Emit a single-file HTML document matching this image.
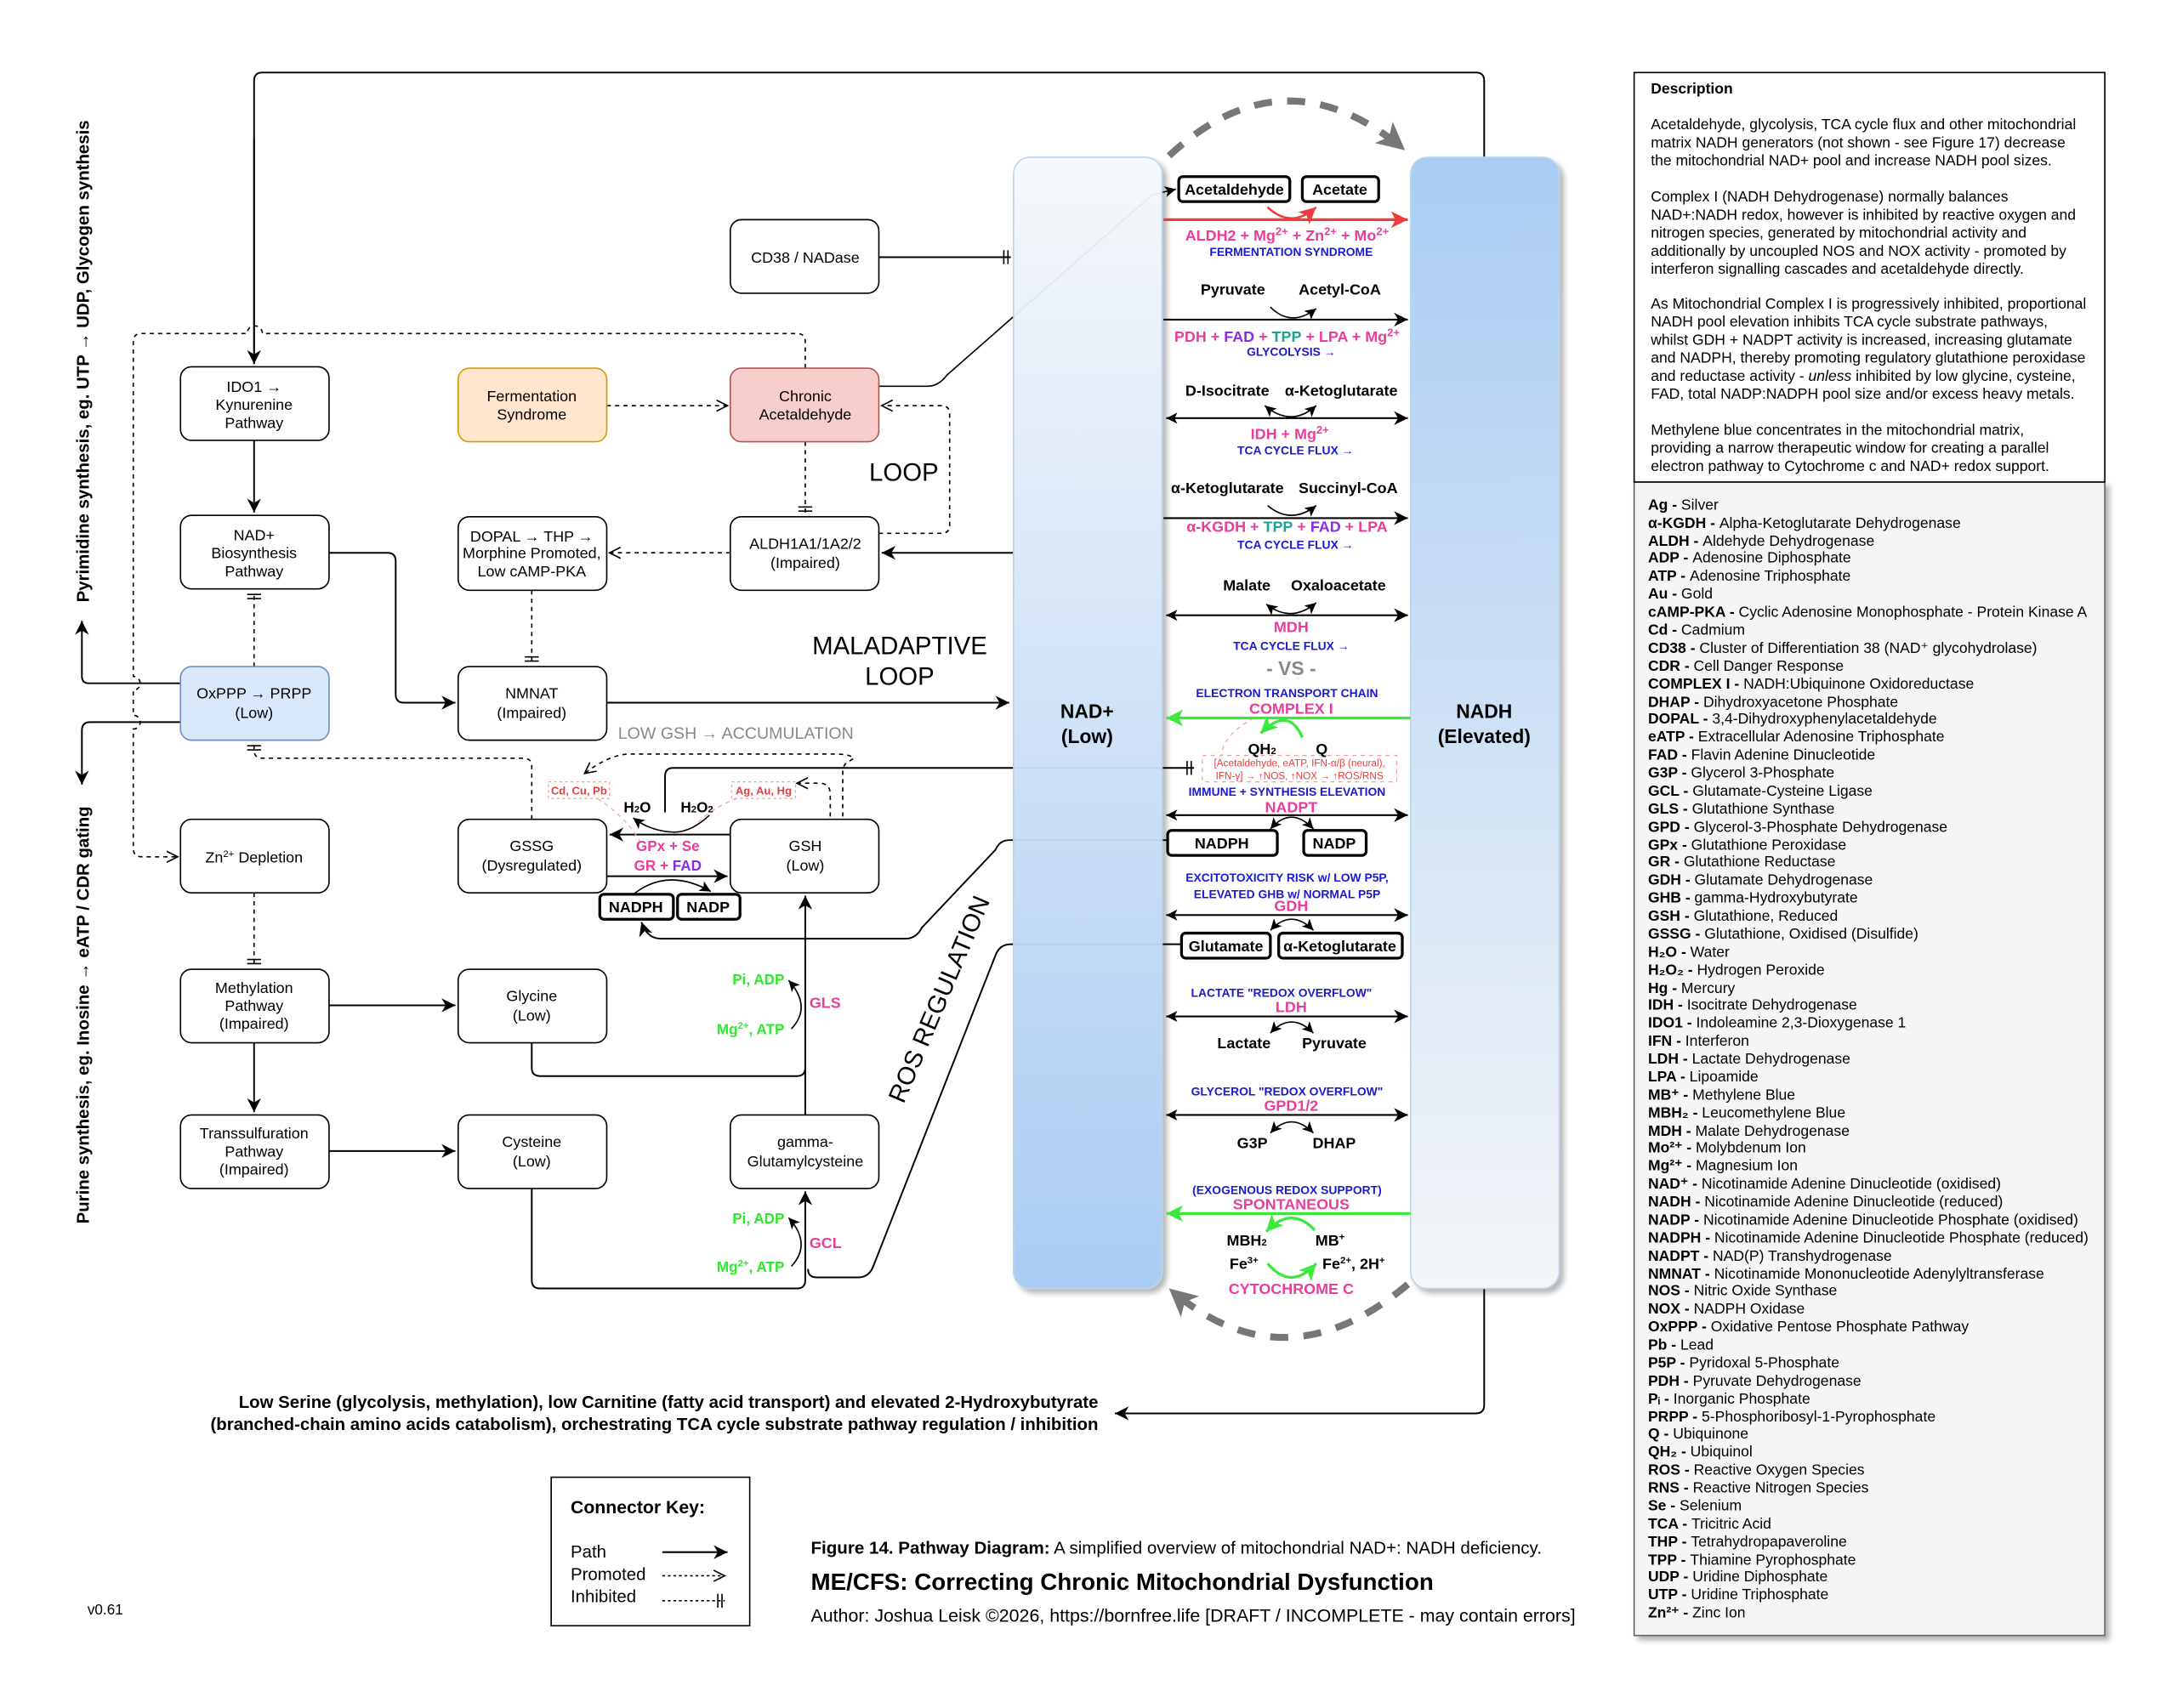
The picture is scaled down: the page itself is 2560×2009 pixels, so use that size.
<!DOCTYPE html>
<html><head><meta charset="utf-8"><style>html,body{margin:0;padding:0;background:#fff}svg{display:block}</style></head>
<body>
<svg width="2560" height="2009" viewBox="0 0 1568 1230" xmlns="http://www.w3.org/2000/svg" font-family="'Liberation Sans', Arial, sans-serif">
<defs>
<marker id="a" markerUnits="userSpaceOnUse" markerWidth="12" markerHeight="12" refX="10" refY="6" orient="auto"><path d="M0,1 L10,6 L0,11 L3,6z" fill="#000"/></marker>
<marker id="as" markerUnits="userSpaceOnUse" markerWidth="10" markerHeight="10" refX="8" refY="5" orient="auto-start-reverse"><path d="M0,1 L8,5 L0,9 L2,5z" fill="#000"/></marker>
<marker id="o" markerUnits="userSpaceOnUse" markerWidth="10" markerHeight="10" refX="8" refY="5" orient="auto"><path d="M0,1 L8,5 L0,9" fill="none" stroke="#000" stroke-width="1"/></marker>
<marker id="r" markerUnits="userSpaceOnUse" markerWidth="14" markerHeight="14" refX="12" refY="7" orient="auto"><path d="M0,1 L12,7 L0,13 L3,7z" fill="#f03c3c"/></marker>
<marker id="g" markerUnits="userSpaceOnUse" markerWidth="14" markerHeight="14" refX="12" refY="7" orient="auto"><path d="M0,1 L12,7 L0,13 L3,7z" fill="#3de83d"/></marker>
<marker id="gy" markerUnits="userSpaceOnUse" markerWidth="24" markerHeight="24" refX="20" refY="12" orient="auto"><path d="M0,2 L20,12 L0,22 L5,12z" fill="#777"/></marker>
<marker id="i" markerUnits="userSpaceOnUse" markerWidth="10" markerHeight="12" refX="9" refY="6" orient="auto"><path d="M4,1 V11 M7,1 V11" stroke="#000" stroke-width="1"/></marker>
<linearGradient id="gl" x1="0" y1="0" x2="0" y2="1"><stop offset="0" stop-color="#f6f8fb"/><stop offset="1" stop-color="#a6caf3"/></linearGradient>
<linearGradient id="gr" x1="0" y1="0" x2="0" y2="1"><stop offset="0" stop-color="#a6caf3"/><stop offset="1" stop-color="#f4f6f8"/></linearGradient>
<filter id="sh"><feDropShadow dx="3" dy="3" stdDeviation="2" flood-opacity="0.3"/></filter>
</defs>

<g fill="none" stroke="#000" stroke-width="1.2">
<path d="M183 262 V58 Q183 52 189 52 H1063 Q1069 52 1069 58 V113"/>
<path d="M183 100 V262" marker-end="url(#a)"/>
<path d="M1069 928 V1012 Q1069 1018 1063 1018 H803" marker-end="url(#a)"/>
<path d="M183 317 V369" marker-end="url(#a)"/>
<path d="M237 398 H279 Q285 398 285 404 V500 Q285 506 291 506 H328" marker-end="url(#a)"/>
<path d="M437 506 H727" marker-end="url(#a)"/>
<path d="M730 398 H635" marker-end="url(#a)"/>
<path d="M633 185 H728" marker-end="url(#i)"/>
<path d="M633 278 H668 Q676 278 682 270 L830 140 L847 136" stroke-width="1" marker-end="url(#as)"/>
<path d="M183 751 V801" marker-end="url(#a)"/>
<path d="M237 724 H328" marker-end="url(#a)"/>
<path d="M237 829 H328" marker-end="url(#a)"/>
<path d="M383 751 V769 Q383 775 389 775 H574 Q580 775 580 769"/>
<path d="M383 856 V922 Q383 928 389 928 H574 Q580 928 580 922 V858" marker-end="url(#a)"/>
<path d="M580 803 V645" marker-end="url(#a)"/>
<path d="M851 680 H728 Q720 680 717 688 L629 912 Q626 920 618 920 H588 Q582 920 582 914"/>
<path d="M841 605 H727 Q720 605 717 612 L664 668 Q660 676 652 676 H476 Q466 676 462 664" marker-end="url(#a)"/>
<path d="M526 601 H439" marker-end="url(#a)"/>
<path d="M437 631 H524" marker-end="url(#a)"/>
<path d="M479 585 V559 Q479 553 485 553 H860" marker-end="url(#i)"/>
<path d="M130 492 H64 Q59 492 59 487 V447" marker-end="url(#a)"/>
<path d="M130 520 H65 Q59 520 59 526 V565" marker-end="url(#a)"/>
</g>
<g fill="none" stroke="#000" stroke-width="1" stroke-dasharray="3,3">
<path d="M580 265 V246 Q580 240 574 240 H189 A5 5 0 0 0 178 240 H102 Q96 240 96 246 V487 A5 5 0 0 1 96 497 V515 A5 5 0 0 1 96 525 V611 Q96 617 102 617 H128" marker-end="url(#o)"/>
<path d="M437 292 H524" marker-end="url(#o)"/>
<path d="M580 318 V370" marker-end="url(#i)"/>
<path d="M633 384 H678 Q684 384 684 378 V298 Q684 292 678 292 H635" marker-end="url(#o)"/>
<path d="M526 398 H439" marker-end="url(#o)"/>
<path d="M383 425 V478" marker-end="url(#i)"/>
<path d="M183 480 V426" marker-end="url(#i)"/>
<path d="M383 590 V552 Q383 546 377 546 H189 Q183 546 183 540 V535" marker-end="url(#i)"/>
<path d="M183 643 V696" marker-end="url(#i)"/>
<path d="M607 588 V556 Q607 550 612 548 L615 546 Q612 543 602 543 H452 Q438 544 421 557" marker-end="url(#o)"/>
<path d="M598 588 V572 Q598 564 590 564 H574" marker-end="url(#o)"/>
</g>
<g fill="none" stroke="#f5a0a0" stroke-width="0.8" stroke-dasharray="3,3">
<path d="M420 569 Q450 585 462 608"/><path d="M548 569 Q510 580 498 598"/>
<path d="M903 517 Q880 530 880 544"/>
</g>

<rect x="730" y="113" width="107" height="815" rx="12" fill="url(#gl)" stroke="#b9d3ee" filter="url(#sh)" opacity="0.95"/>
<rect x="1016" y="113" width="107" height="815" rx="12" fill="url(#gr)" stroke="#b9d3ee" filter="url(#sh)" opacity="0.95"/>
<g font-weight="bold" font-size="14" text-anchor="middle" fill="#000">
<text x="783" y="517">NAD+</text><text x="783" y="535">(Low)</text>
<text x="1069" y="517">NADH</text><text x="1069" y="535">(Elevated)</text>
</g>
<path d="M842 112 Q925 35 1012 108" fill="none" stroke="#777" stroke-width="5" stroke-dasharray="13,11" marker-end="url(#gy)"/>
<path d="M1014 925 Q925 1000 842 928" fill="none" stroke="#777" stroke-width="5" stroke-dasharray="13,11" marker-end="url(#gy)"/>

<g stroke="#000" stroke-width="1" fill="#fff">
<rect x="130" y="264" width="107" height="53" rx="8"/>
<rect x="130" y="371" width="107" height="53" rx="8"/>
<rect x="130" y="480" width="107" height="53" rx="8" fill="#dae8fc" stroke="#6c8ebf"/>
<rect x="130" y="590" width="107" height="53" rx="8"/>
<rect x="130" y="698" width="107" height="53" rx="8"/>
<rect x="130" y="803" width="107" height="53" rx="8"/>
<rect x="330" y="265" width="107" height="53" rx="8" fill="#ffe6cc" stroke="#d79b00"/>
<rect x="330" y="372" width="107" height="53" rx="8"/>
<rect x="330" y="480" width="107" height="53" rx="8"/>
<rect x="330" y="590" width="107" height="53" rx="8"/>
<rect x="330" y="698" width="107" height="53" rx="8"/>
<rect x="330" y="803" width="107" height="53" rx="8"/>
<rect x="526" y="158" width="107" height="53" rx="8"/>
<rect x="526" y="265" width="107" height="53" rx="8" fill="#f8cecc" stroke="#b85450"/>
<rect x="526" y="372" width="107" height="53" rx="8"/>
<rect x="526" y="590" width="107" height="53" rx="8"/>
<rect x="526" y="803" width="107" height="53" rx="8"/>
</g>
<g font-size="11" text-anchor="middle" fill="#000">
<text x="183" y="282">IDO1 →</text><text x="183" y="295">Kynurenine</text><text x="183" y="308">Pathway</text>
<text x="183" y="389">NAD+</text><text x="183" y="402">Biosynthesis</text><text x="183" y="415">Pathway</text>
<text x="183" y="503">OxPPP → PRPP</text><text x="183" y="517">(Low)</text>
<text x="183" y="621">Zn<tspan font-size="7" dy="-4">2+</tspan><tspan dy="4"> Depletion</tspan></text>
<text x="183" y="715">Methylation</text><text x="183" y="728">Pathway</text><text x="183" y="741">(Impaired)</text>
<text x="183" y="820">Transsulfuration</text><text x="183" y="833">Pathway</text><text x="183" y="846">(Impaired)</text>
<text x="383" y="289">Fermentation</text><text x="383" y="302">Syndrome</text>
<text x="383" y="390">DOPAL → THP →</text><text x="383" y="402">Morphine Promoted,</text><text x="383" y="415">Low cAMP-PKA</text>
<text x="383" y="503">NMNAT</text><text x="383" y="517">(Impaired)</text>
<text x="383" y="613">GSSG</text><text x="383" y="627">(Dysregulated)</text>
<text x="383" y="721">Glycine</text><text x="383" y="735">(Low)</text>
<text x="383" y="826">Cysteine</text><text x="383" y="840">(Low)</text>
<text x="580" y="189">CD38 / NADase</text>
<text x="580" y="289">Chronic</text><text x="580" y="302">Acetaldehyde</text>
<text x="580" y="395">ALDH1A1/1A2/2</text><text x="580" y="409">(Impaired)</text>
<text x="580" y="613">GSH</text><text x="580" y="627">(Low)</text>
<text x="580" y="826">gamma-</text><text x="580" y="840">Glutamylcysteine</text>
</g>
<g font-size="18" text-anchor="middle" fill="#000">
<text x="651" y="346">LOOP</text>
<text x="648" y="471">MALADAPTIVE</text><text x="648" y="493">LOOP</text>
<text transform="translate(682,722) rotate(-67)">ROS REGULATION</text>
</g>
<text x="530" y="532" font-size="12" fill="#888" text-anchor="middle">LOW GSH → ACCUMULATION</text>

<rect x="395" y="563" width="44" height="12" fill="#fff" stroke="#f5a0a0" stroke-dasharray="2,2" stroke-width="0.8"/>
<text x="417" y="572" font-size="8" font-weight="bold" fill="#e04040" text-anchor="middle">Cd, Cu, Pb</text>
<rect x="527" y="563" width="46" height="12" fill="#fff" stroke="#f5a0a0" stroke-dasharray="2,2" stroke-width="0.8"/>
<text x="550" y="572" font-size="8" font-weight="bold" fill="#e04040" text-anchor="middle">Ag, Au, Hg</text>
<g font-size="10.5" font-weight="bold" text-anchor="middle">
<text x="459" y="585">H<tspan font-size="7">2</tspan>O</text>
<text x="502" y="585">H<tspan font-size="7">2</tspan>O<tspan font-size="7">2</tspan></text>
<text x="481" y="613" fill="#e83e9b">GPx + Se</text>
<text x="481" y="627" fill="#e83e9b">GR + <tspan fill="#8b2be2">FAD</tspan></text>
</g>
<path d="M511 587 Q496 601 482 599 Q468 598 456 589" fill="none" stroke="#000" marker-end="url(#as)"/>
<path d="M455 645 Q480 624 512 642" fill="none" stroke="#000" marker-end="url(#as)"/>
<g stroke="#000" stroke-width="2" fill="#fff"><rect x="432" y="644" width="53" height="18" rx="3"/><rect x="488" y="644" width="45" height="18" rx="3"/></g>
<g font-size="11" font-weight="bold" text-anchor="middle"><text x="458" y="657">NADPH</text><text x="510" y="657">NADP</text></g>
<g font-size="10.5" font-weight="bold" fill="#2ee82e" text-anchor="end">
<text x="565" y="709">Pi, ADP</text><text x="565" y="745">Mg<tspan font-size="7" dy="-4">2+</tspan><tspan dy="4">, ATP</tspan></text>
<text x="565" y="881">Pi, ADP</text><text x="565" y="916">Mg<tspan font-size="7" dy="-4">2+</tspan><tspan dy="4">, ATP</tspan></text>
</g>
<g font-size="11" font-weight="bold" fill="#e83e9b"><text x="583" y="726">GLS</text><text x="583" y="899">GCL</text></g>
<path d="M570 741 Q585 725 568 706" fill="none" stroke="#000" marker-end="url(#as)"/>
<path d="M570 912 Q585 896 568 877" fill="none" stroke="#000" marker-end="url(#as)"/>

<g stroke="#000" stroke-width="1.3" fill="none">
<path d="M838 230 H1014" marker-end="url(#a)"/>
<path d="M840 301 H1014" marker-start="url(#as)" marker-end="url(#a)"/>
<path d="M838 373 H1014" marker-end="url(#a)"/>
<path d="M840 443 H1014" marker-start="url(#as)" marker-end="url(#a)"/>
<path d="M840 587 H1014" marker-start="url(#as)" marker-end="url(#a)"/>
<path d="M840 659 H1014" marker-start="url(#as)" marker-end="url(#a)"/>
<path d="M840 732 H1014" marker-start="url(#as)" marker-end="url(#a)"/>
<path d="M840 803 H1014" marker-start="url(#as)" marker-end="url(#a)"/>
</g>
<g stroke="#000" stroke-width="1" fill="none">
<path d="M915 221 Q930 236 948 222" marker-end="url(#as)"/>
<path d="M911 292 Q930 308 948 292" marker-start="url(#as)" marker-end="url(#as)"/>
<path d="M913 364 Q930 378 948 364" marker-end="url(#as)"/>
<path d="M912 435 Q930 449 948 434" marker-start="url(#as)" marker-end="url(#as)"/>
<path d="M915 597 Q930 580 946 597" marker-start="url(#as)" marker-end="url(#as)"/>
<path d="M915 670 Q930 654 946 670" marker-start="url(#as)" marker-end="url(#as)"/>
<path d="M915 744 Q930 728 946 744" marker-start="url(#as)" marker-end="url(#as)"/>
<path d="M915 816 Q930 800 946 816" marker-start="url(#as)" marker-end="url(#as)"/>
</g>
<path d="M838 158 H1014" stroke="#f03c3c" stroke-width="2" fill="none" marker-end="url(#r)"/>
<path d="M913 149 Q930 165 948 149" stroke="#f03c3c" stroke-width="1.5" fill="none" marker-end="url(#r)"/>
<path d="M1016 517 H840" stroke="#3de83d" stroke-width="2" fill="none" marker-end="url(#g)"/>
<path d="M938 531 Q928 508 908 528" stroke="#3de83d" stroke-width="2" fill="none" marker-end="url(#g)"/>
<path d="M1016 874 H840" stroke="#3de83d" stroke-width="2" fill="none" marker-end="url(#g)"/>
<path d="M947 886 Q930 868 912 887" stroke="#3de83d" stroke-width="2" fill="none" marker-end="url(#g)"/>
<path d="M913 910 Q930 930 948 910" stroke="#3de83d" stroke-width="2" fill="none" marker-end="url(#g)"/>
<g stroke="#000" stroke-width="2" fill="#fff">
<rect x="849" y="127" width="80" height="18" rx="3"/><rect x="938" y="127" width="55" height="18" rx="3"/>
<rect x="841" y="598" width="79" height="18" rx="3"/><rect x="939" y="598" width="45" height="18" rx="3"/>
<rect x="851" y="672" width="64" height="18" rx="3"/><rect x="921" y="672" width="89" height="18" rx="3"/>
</g>
<rect x="866" y="544" width="140" height="19" fill="#fff" stroke="#f5a0a0" stroke-dasharray="3,3" stroke-width="0.8"/>
<g font-size="11" font-weight="bold" text-anchor="middle" fill="#000">
<text x="889" y="140">Acetaldehyde</text><text x="965" y="140">Acetate</text>
<text x="888" y="212">Pyruvate</text><text x="965" y="212">Acetyl-CoA</text>
<text x="884" y="285">D-Isocitrate</text><text x="966" y="285">α-Ketoglutarate</text>
<text x="884" y="355">α-Ketoglutarate</text><text x="971" y="355">Succinyl-CoA</text>
<text x="898" y="425">Malate</text><text x="964" y="425">Oxaloacetate</text>
<text x="909" y="543">QH<tspan font-size="7">2</tspan></text><text x="952" y="543">Q</text>
<text x="880" y="611">NADPH</text><text x="961" y="611">NADP</text>
<text x="883" y="685">Glutamate</text><text x="965" y="685">α-Ketoglutarate</text>
<text x="896" y="755">Lactate</text><text x="961" y="755">Pyruvate</text>
<text x="902" y="827">G3P</text><text x="961" y="827">DHAP</text>
<text x="898" y="897">MBH<tspan font-size="7">2</tspan></text><text x="958" y="897">MB<tspan font-size="7" dy="-4">+</tspan></text>
<text x="896" y="914">Fe<tspan font-size="7" dy="-4">3+</tspan></text><text x="975" y="914">Fe<tspan font-size="7" dy="-4">2+</tspan><tspan dy="4">, 2H</tspan><tspan font-size="7" dy="-4">+</tspan></text>
</g>
<g font-size="11" font-weight="bold" text-anchor="middle" fill="#e83e9b">
<text x="927" y="173">ALDH2 + Mg<tspan font-size="8" dy="-4">2+</tspan><tspan dy="4"> + Zn</tspan><tspan font-size="8" dy="-4">2+</tspan><tspan dy="4"> + Mo</tspan><tspan font-size="8" dy="-4">2+</tspan></text>
<text x="927" y="246">PDH + <tspan fill="#8b2be2">FAD</tspan> + <tspan fill="#1aa590">TPP</tspan> + LPA + Mg<tspan font-size="8" dy="-4">2+</tspan></text>
<text x="929" y="316">IDH + Mg<tspan font-size="8" dy="-4">2+</tspan></text>
<text x="927" y="383">α-KGDH + <tspan fill="#1aa590">TPP</tspan> + <tspan fill="#8b2be2">FAD</tspan> + LPA</text>
<text x="930" y="455">MDH</text>
<text x="930" y="514">COMPLEX I</text>
<text x="930" y="585">NADPT</text>
<text x="930" y="656">GDH</text>
<text x="930" y="729">LDH</text>
<text x="930" y="800">GPD1/2</text>
<text x="930" y="871">SPONTANEOUS</text>
<text x="930" y="932">CYTOCHROME C</text>
</g>
<g font-size="8.5" font-weight="bold" text-anchor="middle" fill="#1a1ad0">
<text x="930" y="184">FERMENTATION SYNDROME</text>
<text x="930" y="256">GLYCOLYSIS →</text>
<text x="933" y="327">TCA CYCLE FLUX →</text>
<text x="933" y="395">TCA CYCLE FLUX →</text>
<text x="930" y="468">TCA CYCLE FLUX →</text>
<text x="927" y="502">ELECTRON TRANSPORT CHAIN</text>
<text x="927" y="573">IMMUNE + SYNTHESIS ELEVATION</text>
<text x="927" y="635">EXCITOTOXICITY RISK w/ LOW P5P,</text>
<text x="927" y="647">ELEVATED GHB w/ NORMAL P5P</text>
<text x="923" y="718">LACTATE "REDOX OVERFLOW"</text>
<text x="927" y="789">GLYCEROL "REDOX OVERFLOW"</text>
<text x="927" y="860">(EXOGENOUS REDOX SUPPORT)</text>
</g>
<text x="930" y="486" font-size="14" font-weight="bold" fill="#888" text-anchor="middle">- VS -</text>
<g font-size="7.2" fill="#e04040" text-anchor="middle"><text x="936" y="552">[Acetaldehyde, eATP, IFN-α/β (neural),</text><text x="936" y="561">IFN-γ] → ↑NOS, ↑NOX → ↑ROS/RNS</text></g>

<g font-size="12.5" font-weight="bold" fill="#000" text-anchor="middle">
<text transform="translate(64,260) rotate(-90)">Pyrimidine synthesis, eg. UTP → UDP, Glycogen synthesis</text>
<text transform="translate(64,731) rotate(-90)">Purine synthesis, eg. Inosine → eATP / CDR gating</text>
</g>

<g font-size="12.5" font-weight="bold" text-anchor="end"><text x="791" y="1014">Low Serine (glycolysis, methylation), low Carnitine (fatty acid transport) and elevated 2-Hydroxybutyrate</text><text x="791" y="1030">(branched-chain amino acids catabolism), orchestrating TCA cycle substrate pathway regulation / inhibition</text></g>

<rect x="397" y="1064" width="143" height="107" fill="#fff" stroke="#000"/>
<text x="411" y="1090" font-size="13" font-weight="bold">Connector Key:</text>
<g font-size="12.5"><text x="411" y="1122">Path</text><text x="411" y="1138">Promoted</text><text x="411" y="1154">Inhibited</text></g>
<path d="M477 1118 H524" stroke="#000" stroke-width="1.3" marker-end="url(#a)"/>
<path d="M477 1135 H522" stroke="#000" stroke-dasharray="2,2" marker-end="url(#o)"/>
<path d="M477 1153 H522" stroke="#000" stroke-dasharray="2,2" marker-end="url(#i)"/>

<text x="584" y="1119" font-size="12.6"><tspan font-weight="bold">Figure 14. Pathway Diagram:</tspan> A simplified overview of mitochondrial NAD+: NADH deficiency.</text>
<text x="584" y="1145" font-size="17" font-weight="bold">ME/CFS: Correcting Chronic Mitochondrial Dysfunction</text>
<text x="584" y="1168" font-size="13.1">Author: Joshua Leisk ©2026, https://bornfree.life [DRAFT / INCOMPLETE - may contain errors]</text>
<text x="63" y="1163" font-size="10.5">v0.61</text>

<rect x="1177" y="347" width="339" height="831" fill="#f5f5f5" stroke="#666" filter="url(#sh)"/>
<rect x="1177" y="52" width="339" height="295" fill="#fff" stroke="#000"/>
<g font-size="10.75" fill="#000">
<text x="1189" y="67" font-weight="bold">Description</text>
<text x="1189" y="93">Acetaldehyde, glycolysis, TCA cycle flux and other mitochondrial</text>
<text x="1189" y="106">matrix NADH generators (not shown - see Figure 17) decrease</text>
<text x="1189" y="119">the mitochondrial NAD+ pool and increase NADH pool sizes.</text>
<text x="1189" y="145">Complex I (NADH Dehydrogenase) normally balances</text>
<text x="1189" y="158">NAD+:NADH redox, however is inhibited by reactive oxygen and</text>
<text x="1189" y="171">nitrogen species, generated by mitochondrial activity and</text>
<text x="1189" y="184">additionally by uncoupled NOS and NOX activity - promoted by</text>
<text x="1189" y="197">interferon signalling cascades and acetaldehyde directly.</text>
<text x="1189" y="222">As Mitochondrial Complex I is progressively inhibited, proportional</text>
<text x="1189" y="235">NADH pool elevation inhibits TCA cycle substrate pathways,</text>
<text x="1189" y="248">whilst GDH + NADPT activity is increased, increasing glutamate</text>
<text x="1189" y="261">and NADPH, thereby promoting regulatory glutathione peroxidase</text>
<text x="1189" y="274">and reductase activity - <tspan font-style="italic">unless</tspan> inhibited by low glycine, cysteine,</text>
<text x="1189" y="287">FAD, total NADP:NADPH pool size and/or excess heavy metals.</text>
<text x="1189" y="313">Methylene blue concentrates in the mitochondrial matrix,</text>
<text x="1189" y="326">providing a narrow therapeutic window for creating a parallel</text>
<text x="1189" y="339">electron pathway to Cytochrome c and NAD+ redox support.</text>
</g>
<g font-size="10.75" fill="#000">
<text x="1187" y="367"><tspan font-weight="bold">Ag - </tspan>Silver</text>
<text x="1187" y="380"><tspan font-weight="bold">α-KGDH - </tspan>Alpha-Ketoglutarate Dehydrogenase</text>
<text x="1187" y="393"><tspan font-weight="bold">ALDH - </tspan>Aldehyde Dehydrogenase</text>
<text x="1187" y="405"><tspan font-weight="bold">ADP - </tspan>Adenosine Diphosphate</text>
<text x="1187" y="418"><tspan font-weight="bold">ATP - </tspan>Adenosine Triphosphate</text>
<text x="1187" y="431"><tspan font-weight="bold">Au - </tspan>Gold</text>
<text x="1187" y="444"><tspan font-weight="bold">cAMP-PKA - </tspan>Cyclic Adenosine Monophosphate - Protein Kinase A</text>
<text x="1187" y="457"><tspan font-weight="bold">Cd - </tspan>Cadmium</text>
<text x="1187" y="470"><tspan font-weight="bold">CD38 - </tspan>Cluster of Differentiation 38 (NAD⁺ glycohydrolase)</text>
<text x="1187" y="483"><tspan font-weight="bold">CDR - </tspan>Cell Danger Response</text>
<text x="1187" y="496"><tspan font-weight="bold">COMPLEX I - </tspan>NADH:Ubiquinone Oxidoreductase</text>
<text x="1187" y="509"><tspan font-weight="bold">DHAP - </tspan>Dihydroxyacetone Phosphate</text>
<text x="1187" y="521"><tspan font-weight="bold">DOPAL - </tspan>3,4-Dihydroxyphenylacetaldehyde</text>
<text x="1187" y="534"><tspan font-weight="bold">eATP - </tspan>Extracellular Adenosine Triphosphate</text>
<text x="1187" y="547"><tspan font-weight="bold">FAD - </tspan>Flavin Adenine Dinucleotide</text>
<text x="1187" y="560"><tspan font-weight="bold">G3P - </tspan>Glycerol 3-Phosphate</text>
<text x="1187" y="573"><tspan font-weight="bold">GCL - </tspan>Glutamate-Cysteine Ligase</text>
<text x="1187" y="586"><tspan font-weight="bold">GLS - </tspan>Glutathione Synthase</text>
<text x="1187" y="599"><tspan font-weight="bold">GPD - </tspan>Glycerol-3-Phosphate Dehydrogenase</text>
<text x="1187" y="612"><tspan font-weight="bold">GPx - </tspan>Glutathione Peroxidase</text>
<text x="1187" y="624"><tspan font-weight="bold">GR - </tspan>Glutathione Reductase</text>
<text x="1187" y="637"><tspan font-weight="bold">GDH - </tspan>Glutamate Dehydrogenase</text>
<text x="1187" y="650"><tspan font-weight="bold">GHB - </tspan>gamma-Hydroxybutyrate</text>
<text x="1187" y="663"><tspan font-weight="bold">GSH - </tspan>Glutathione, Reduced</text>
<text x="1187" y="676"><tspan font-weight="bold">GSSG - </tspan>Glutathione, Oxidised (Disulfide)</text>
<text x="1187" y="689"><tspan font-weight="bold">H₂O - </tspan>Water</text>
<text x="1187" y="702"><tspan font-weight="bold">H₂O₂ - </tspan>Hydrogen Peroxide</text>
<text x="1187" y="715"><tspan font-weight="bold">Hg - </tspan>Mercury</text>
<text x="1187" y="727"><tspan font-weight="bold">IDH - </tspan>Isocitrate Dehydrogenase</text>
<text x="1187" y="740"><tspan font-weight="bold">IDO1 - </tspan>Indoleamine 2,3-Dioxygenase 1</text>
<text x="1187" y="753"><tspan font-weight="bold">IFN - </tspan>Interferon</text>
<text x="1187" y="766"><tspan font-weight="bold">LDH - </tspan>Lactate Dehydrogenase</text>
<text x="1187" y="779"><tspan font-weight="bold">LPA - </tspan>Lipoamide</text>
<text x="1187" y="792"><tspan font-weight="bold">MB⁺ - </tspan>Methylene Blue</text>
<text x="1187" y="805"><tspan font-weight="bold">MBH₂ - </tspan>Leucomethylene Blue</text>
<text x="1187" y="818"><tspan font-weight="bold">MDH - </tspan>Malate Dehydrogenase</text>
<text x="1187" y="830"><tspan font-weight="bold">Mo²⁺ - </tspan>Molybdenum Ion</text>
<text x="1187" y="843"><tspan font-weight="bold">Mg²⁺ - </tspan>Magnesium Ion</text>
<text x="1187" y="856"><tspan font-weight="bold">NAD⁺ - </tspan>Nicotinamide Adenine Dinucleotide (oxidised)</text>
<text x="1187" y="869"><tspan font-weight="bold">NADH - </tspan>Nicotinamide Adenine Dinucleotide (reduced)</text>
<text x="1187" y="882"><tspan font-weight="bold">NADP - </tspan>Nicotinamide Adenine Dinucleotide Phosphate (oxidised)</text>
<text x="1187" y="895"><tspan font-weight="bold">NADPH - </tspan>Nicotinamide Adenine Dinucleotide Phosphate (reduced)</text>
<text x="1187" y="908"><tspan font-weight="bold">NADPT - </tspan>NAD(P) Transhydrogenase</text>
<text x="1187" y="921"><tspan font-weight="bold">NMNAT - </tspan>Nicotinamide Mononucleotide Adenylyltransferase</text>
<text x="1187" y="933"><tspan font-weight="bold">NOS - </tspan>Nitric Oxide Synthase</text>
<text x="1187" y="946"><tspan font-weight="bold">NOX - </tspan>NADPH Oxidase</text>
<text x="1187" y="959"><tspan font-weight="bold">OxPPP - </tspan>Oxidative Pentose Phosphate Pathway</text>
<text x="1187" y="972"><tspan font-weight="bold">Pb - </tspan>Lead</text>
<text x="1187" y="985"><tspan font-weight="bold">P5P - </tspan>Pyridoxal 5-Phosphate</text>
<text x="1187" y="998"><tspan font-weight="bold">PDH - </tspan>Pyruvate Dehydrogenase</text>
<text x="1187" y="1011"><tspan font-weight="bold">Pᵢ - </tspan>Inorganic Phosphate</text>
<text x="1187" y="1024"><tspan font-weight="bold">PRPP - </tspan>5-Phosphoribosyl-1-Pyrophosphate</text>
<text x="1187" y="1036"><tspan font-weight="bold">Q - </tspan>Ubiquinone</text>
<text x="1187" y="1049"><tspan font-weight="bold">QH₂ - </tspan>Ubiquinol</text>
<text x="1187" y="1062"><tspan font-weight="bold">ROS - </tspan>Reactive Oxygen Species</text>
<text x="1187" y="1075"><tspan font-weight="bold">RNS - </tspan>Reactive Nitrogen Species</text>
<text x="1187" y="1088"><tspan font-weight="bold">Se - </tspan>Selenium</text>
<text x="1187" y="1101"><tspan font-weight="bold">TCA - </tspan>Tricitric Acid</text>
<text x="1187" y="1114"><tspan font-weight="bold">THP - </tspan>Tetrahydropapaveroline</text>
<text x="1187" y="1127"><tspan font-weight="bold">TPP - </tspan>Thiamine Pyrophosphate</text>
<text x="1187" y="1139"><tspan font-weight="bold">UDP - </tspan>Uridine Diphosphate</text>
<text x="1187" y="1152"><tspan font-weight="bold">UTP - </tspan>Uridine Triphosphate</text>
<text x="1187" y="1165"><tspan font-weight="bold">Zn²⁺ - </tspan>Zinc Ion</text>
</g>
</svg>
</body></html>
